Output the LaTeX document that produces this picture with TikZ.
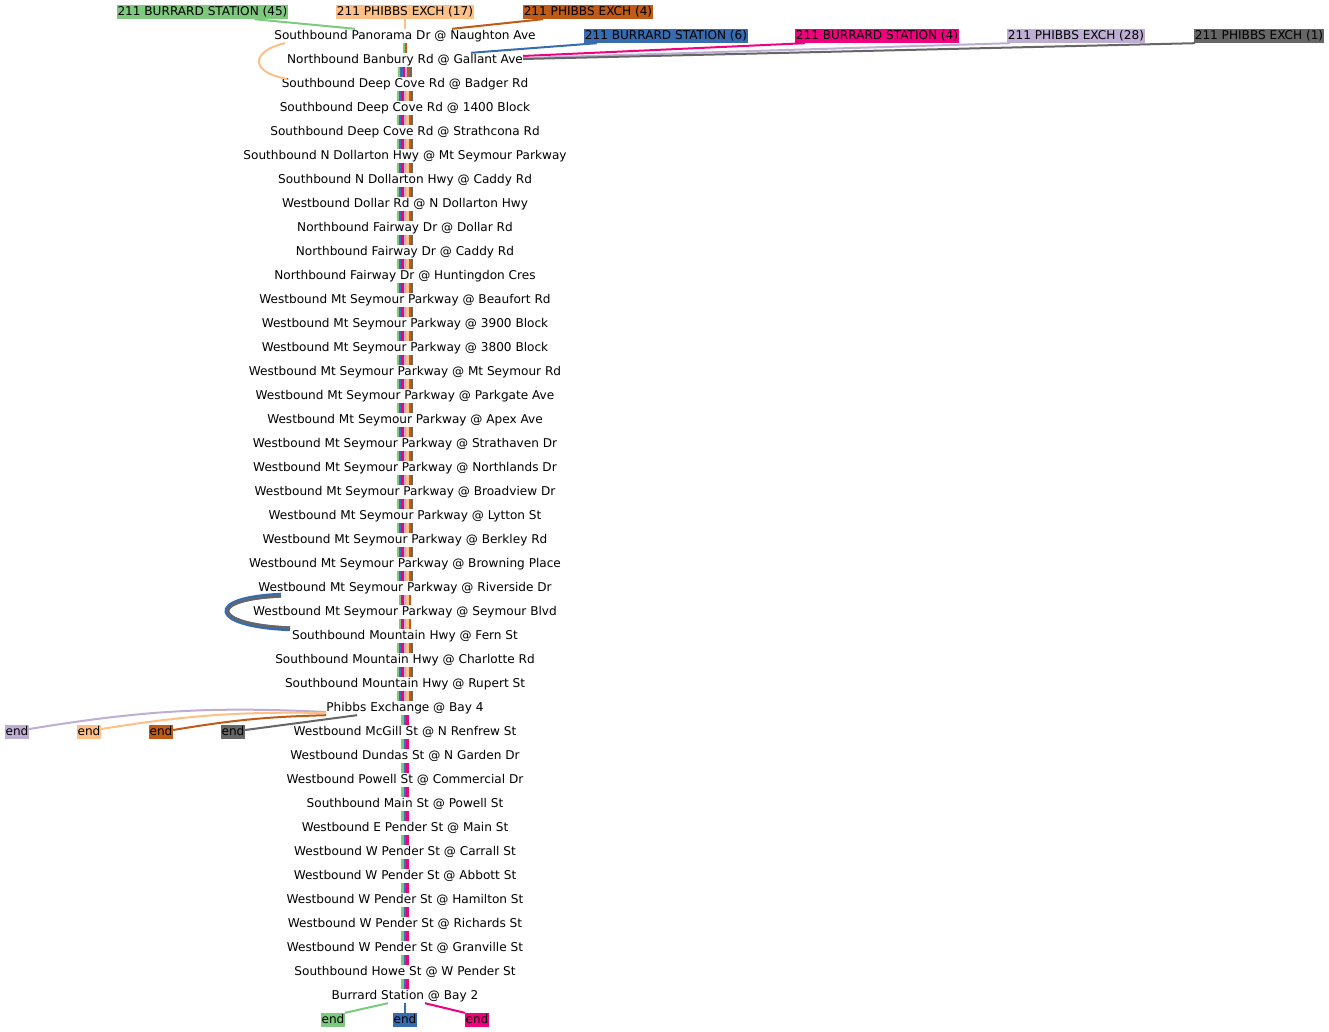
\documentclass[tikz,border=0pt]{standalone}
\usepackage{fontspec}
\setmainfont{DejaVu Sans}
\usetikzlibrary{calc}
\definecolor{rgreen}{HTML}{7FC97F}
\definecolor{rlav}{HTML}{BEAED4}
\definecolor{rorange}{HTML}{FDC086}
\definecolor{rblue}{HTML}{386CB0}
\definecolor{rpink}{HTML}{F0027F}
\definecolor{rbrown}{HTML}{BF5B17}
\definecolor{rgrey}{HTML}{666666}
\def\allroutes{rgreen,rblue,rpink,rlav,rorange,rbrown,rgrey}
% one stripe per route between stop #1 and the next one
\newcommand\bundle[2]{%
  \pgfmathtruncatemacro\nxt{#1+1}%
  \edef\blist{#2}%
  \foreach \c [count=\n] in \blist {\xdef\nbar{\n}}%
  \foreach \c [count=\k] in \blist
    \draw[bar, \c] ([xshift={(\k-(\nbar+1)/2)*2.4}]s#1.south)
                -- ([xshift={(\k-(\nbar+1)/2)*2.4}]s\nxt.north);
}

\begin{document}
\begin{tikzpicture}[x=1pt, y=-1pt,
  stop/.style={font=\fontsize{12.1}{14}\selectfont, inner sep=0pt,
    text height=10.5pt, text depth=3.5pt},
  lbl/.style={stop, fill=#1, inner xsep=0.6pt},
  lnk/.style={line width=2pt},
  bar/.style={line width=2.4pt}
]
\fill[white] (0,0) rectangle (1329,1032);
\useasboundingbox (0,0) rectangle (1329,1032);

\foreach \t [count=\i] in {
  Southbound Panorama Dr @ Naughton Ave,
  Northbound Banbury Rd @ Gallant Ave,
  Southbound Deep Cove Rd @ Badger Rd,
  Southbound Deep Cove Rd @ 1400 Block,
  Southbound Deep Cove Rd @ Strathcona Rd,
  Southbound N Dollarton Hwy @ Mt Seymour Parkway,
  Southbound N Dollarton Hwy @ Caddy Rd,
  Westbound Dollar Rd @ N Dollarton Hwy,
  Northbound Fairway Dr @ Dollar Rd,
  Northbound Fairway Dr @ Caddy Rd,
  Northbound Fairway Dr @ Huntingdon Cres,
  Westbound Mt Seymour Parkway @ Beaufort Rd,
  Westbound Mt Seymour Parkway @ 3900 Block,
  Westbound Mt Seymour Parkway @ 3800 Block,
  Westbound Mt Seymour Parkway @ Mt Seymour Rd,
  Westbound Mt Seymour Parkway @ Parkgate Ave,
  Westbound Mt Seymour Parkway @ Apex Ave,
  Westbound Mt Seymour Parkway @ Strathaven Dr,
  Westbound Mt Seymour Parkway @ Northlands Dr,
  Westbound Mt Seymour Parkway @ Broadview Dr,
  Westbound Mt Seymour Parkway @ Lytton St,
  Westbound Mt Seymour Parkway @ Berkley Rd,
  Westbound Mt Seymour Parkway @ Browning Place,
  Westbound Mt Seymour Parkway @ Riverside Dr,
  Westbound Mt Seymour Parkway @ Seymour Blvd,
  Southbound Mountain Hwy @ Fern St,
  Southbound Mountain Hwy @ Charlotte Rd,
  Southbound Mountain Hwy @ Rupert St,
  Phibbs Exchange @ Bay 4,
  Westbound McGill St @ N Renfrew St,
  Westbound Dundas St @ N Garden Dr,
  Westbound Powell St @ Commercial Dr,
  Southbound Main St @ Powell St,
  Westbound E Pender St @ Main St,
  Westbound W Pender St @ Carrall St,
  Westbound W Pender St @ Abbott St,
  Westbound W Pender St @ Hamilton St,
  Westbound W Pender St @ Richards St,
  Westbound W Pender St @ Granville St,
  Southbound Howe St @ W Pender St,
  Burrard Station @ Bay 2}
  \node[stop] (s\i) at (405,{12+24*\i}) {\t};

% headsigns
\node[lbl=rgreen]  (hb45) at (202.5,12) {211 BURRARD STATION (45)};
\node[lbl=rorange] (hp17) at (405,12)   {211 PHIBBS EXCH (17)};
\node[lbl=rbrown]  (hp4)  at (588,12)   {211 PHIBBS EXCH (4)};
\node[lbl=rblue]   (hb6)  at (666,36)   {211 BURRARD STATION (6)};
\node[lbl=rpink]   (hb4)  at (877,36)   {211 BURRARD STATION (4)};
\node[lbl=rlav]    (hp28) at (1076,36)  {211 PHIBBS EXCH (28)};
\node[lbl=rgrey]   (hp1)  at (1259,36)  {211 PHIBBS EXCH (1)};

% terminal ends
\node[lbl=rlav]    (el)  at (17,732)  {end};
\node[lbl=rorange] (eo)  at (89,732)  {end};
\node[lbl=rbrown]  (ebr) at (161,732) {end};
\node[lbl=rgrey]   (egr) at (233,732) {end};
\node[lbl=rgreen]  (eg)  at (333,1020) {end};
\node[lbl=rblue]   (eb)  at (405,1020) {end};
\node[lbl=rpink]   (ep)  at (477,1020) {end};

\draw[lnk, rgreen]  ([xshift=52]hb45.south) -- ([xshift=-50]s1.north);
\draw[lnk, rorange] (hp17.south) -- (s1.north);
\draw[lnk, rbrown]  ([xshift=-45]hp4.south) -- ([xshift=47]s1.north);
\draw[lnk, rblue]   ([xshift=-69]hb6.south) -- ([xshift=66]s2.north);
\draw[lnk, rpink]   ([xshift=-72]hb4.south) -- ([yshift=4]s2.east);
\draw[lnk, rlav]    ([xshift=-66]hp28.south) -- ([yshift=2]s2.east);
\draw[lnk, rgrey]   ([xshift=-64]hp1.south) -- ([yshift=1]s2.east);

\bundle{1}{rgreen,rbrown}
\bundle{2}{rgreen,rblue,rpink,rlav,rbrown,rgrey}
\foreach \i in {3,...,23} {\bundle{\i}{\allroutes}}
\foreach \i in {24,25} {\bundle{\i}{rgreen,rpink,rlav,rorange,rbrown}}
\foreach \i in {26,27,28} {\bundle{\i}{\allroutes}}
\foreach \i in {29,...,40} {\bundle{\i}{rgreen,rblue,rpink}}

% skipped stops
\draw[lnk, rorange] ([xshift=-120]s1.south) .. controls +(-35,8) and +(-37,-6)
  .. ([xshift=-118,yshift=-2]s3.north);
\draw[line width=4.8pt, rblue] ([xshift=-124]s24.south) .. controls +(-76,3) and +(-80,-3)
  .. ([xshift=-115]s26.north);
\draw[bar, rgrey] ([xshift=-124,yshift=-1.2]s24.south) .. controls +(-75,3) and +(-78,-3)
  .. ([xshift=-115,yshift=1.2]s26.north);

\draw[lnk, rlav]    ([yshift=-4]s29.west) to[bend right=6] ([yshift=3]el.east);
\draw[lnk, rorange] ([yshift=-5]s29.west) to[bend right=5] ([yshift=3]eo.east);
\draw[lnk, rbrown]  (s29.south west) to[bend right=4] ([yshift=2]ebr.east);
\draw[lnk, rgrey]   ([xshift=-48]s29.south) -- ([yshift=2]egr.east);

\draw[lnk, rgreen] ([xshift=-17]s41.south) -- (eg.north east);
\draw[lnk, rblue]  (s41.south) -- (eb.north);
\draw[lnk, rpink]  ([xshift=20]s41.south) -- (ep.north west);
\end{tikzpicture}
\end{document}
